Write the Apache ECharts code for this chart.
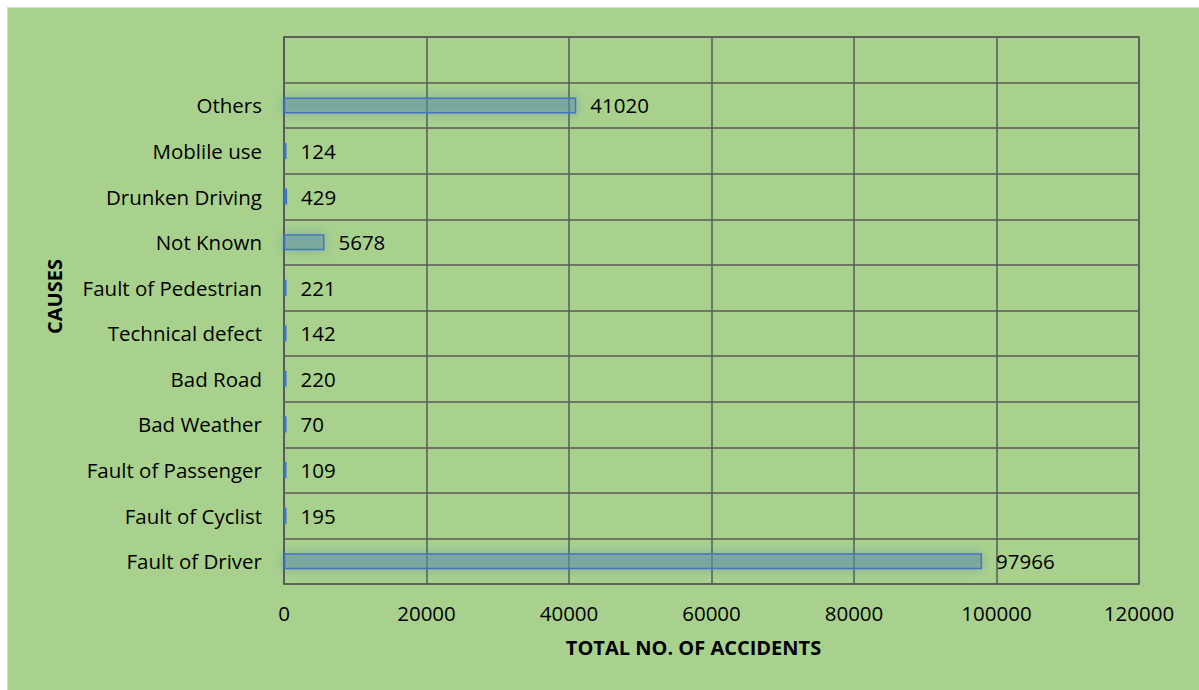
<!DOCTYPE html>
<html>
<head>
<meta charset="utf-8">
<script src="https://cdn.jsdelivr.net/npm/echarts@6/dist/echarts.min.js"></script>
<style>
  html, body { margin: 0; padding: 0; background: #fff; }
  #frame { position: absolute; left: 7px; top: 7px; width: 1192px; height: 683px;
           border-top: 1px solid #d9d9d9; border-left: 1px solid #d9d9d9; background: #a9d18e; }
  #chart { position: absolute; left: -8px; top: -8px; width: 1199px; height: 690px; }
</style>
</head>
<body>
<div id="frame"><div id="chart"></div></div>
<script>
// bottom to top, the last (empty) row is the blank band on top
var causes = ['Fault of Driver', 'Fault of Cyclist', 'Fault of Passenger', 'Bad Weather', 'Bad Road',
  'Technical defect', 'Fault of Pedestrian', 'Not Known', 'Drunken Driving', 'Moblile use', 'Others', ''];
var accidents = [97966, 195, 109, 70, 220, 142, 221, 5678, 429, 124, 41020, null];
var xTicks = [0, 20000, 40000, 60000, 80000, 100000, 120000];

var font = 'Open Sans';
var gridColor = '#595959';

var myChart = echarts.init(document.getElementById('chart'), null, { renderer: 'svg' });

var option = {
  backgroundColor: 'transparent',
  animation: false,
  grid: {
    left: 284, right: 60, top: 37, bottom: 106,
    show: true, borderColor: gridColor, borderWidth: 1.5, backgroundColor: 'transparent'
  },
  xAxis: {
    type: 'value',
    min: xTicks[0],
    max: xTicks[xTicks.length - 1],
    interval: xTicks[1] - xTicks[0],
    axisLine: { show: false },
    axisTick: { show: false },
    splitLine: { show: true, lineStyle: { color: gridColor, width: 1.5 } },
    axisLabel: {
      color: '#000', fontFamily: font, fontSize: 20.5, margin: 18,
      formatter: function (v) { return String(v); }
    },
    name: 'TOTAL NO. OF ACCIDENTS',
    nameLocation: 'middle',
    nameGap: 53,
    nameTextStyle: { color: '#000', fontFamily: font, fontSize: 20, fontWeight: 'bold', padding: [0, 36, 0, 0] }
  },
  yAxis: {
    type: 'category',
    data: causes,
    axisLine: { show: true, lineStyle: { color: gridColor, width: 1.5 } },
    axisTick: { show: false },
    splitLine: { show: true, lineStyle: { color: gridColor, width: 1.5 } },
    axisLabel: { color: '#000', fontFamily: font, fontSize: 20.5, margin: 22 },
    name: 'CAUSES',
    nameLocation: 'middle',
    nameGap: 220,
    nameRotate: 90,
    nameTextStyle: { color: '#000', fontFamily: font, fontSize: 20, fontWeight: 'bold', padding: [0, 0, 0, 28] }
  },
  series: [{
    type: 'bar',
    data: accidents,
    barWidth: 16,
    barMinHeight: 2.5,
    itemStyle: {
      color: 'rgba(100,150,165,0.45)',
      borderColor: '#4472c4',
      borderWidth: 1.5,
      shadowBlur: 12,
      shadowColor: 'rgba(70,120,170,0.75)'
    },
    label: {
      show: true,
      position: 'right',
      distance: 14,
      color: '#000',
      fontFamily: font,
      fontSize: 20.5
    }
  }]
};

myChart.setOption(option);
window.onresize = function () { myChart.resize(); };
</script>
</body>
</html>
